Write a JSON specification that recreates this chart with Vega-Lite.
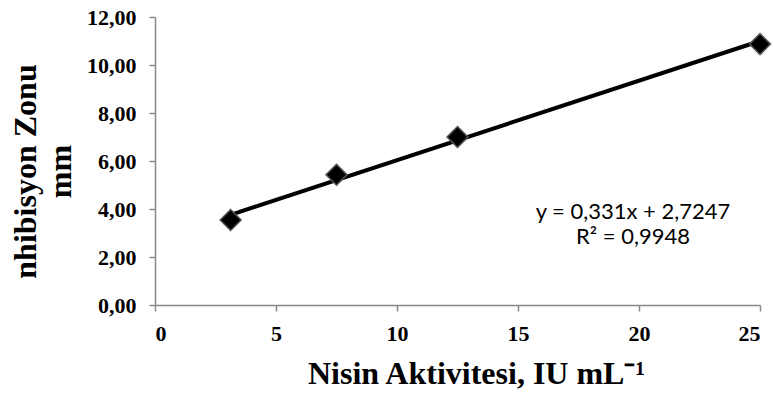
{
  "$schema": "https://vega.github.io/schema/vega-lite/v6.json",
  "width": 605,
  "height": 288,
  "autosize": "none",
  "padding": {"left": 155, "top": 17, "right": 13, "bottom": 91},
  "background": "white",
  "config": {"view": {"stroke": null}},
  "datasets": {
    "points": [
      {"x": 3.125, "y": 3.54},
      {"x": 7.5, "y": 5.43},
      {"x": 12.5, "y": 7.0},
      {"x": 25, "y": 10.87}
    ],
    "trend": [
      {"x": 3.125, "y": 3.759},
      {"x": 25, "y": 11.0}
    ],
    "labels": [
      {"x": 19.75, "y": 3.58, "text": "y = 0,331x + 2,7247\nR² = 0,9948"}
    ]
  },
  "layer": [
    {
      "data": {"name": "trend"},
      "mark": {"type": "line", "color": "black", "strokeWidth": 4},
      "encoding": {
        "x": {
          "field": "x", "type": "quantitative",
          "scale": {"domain": [0, 25], "nice": false},
          "axis": {
            "values": [0, 5, 10, 15, 20, 25],
            "grid": false,
            "domainColor": "#888888",
            "domainWidth": 1.5,
            "tickColor": "#888888",
            "tickWidth": 1.5,
            "tickSize": 6,
            "labelFont": "Liberation Serif",
            "labelFontWeight": "bold",
            "labelFontSize": 22,
            "labelColor": "black",
            "labelBaseline": "alphabetic",
            "labelPadding": 29,
            "title": "Nisin Aktivitesi, IU mL⁻¹",
            "titleFont": "Liberation Serif",
            "titleFontWeight": "bold",
            "titleFontSize": 32,
            "titleColor": "black",
            "titleX": 321,
            "titleY": 78,
            "titleAlign": "center",
            "titleBaseline": "alphabetic"
          }
        },
        "y": {
          "field": "y", "type": "quantitative",
          "scale": {"domain": [0, 12], "nice": false},
          "axis": {
            "values": [0, 2, 4, 6, 8, 10, 12],
            "grid": false,
            "domainColor": "#888888",
            "domainWidth": 1.5,
            "tickColor": "#888888",
            "tickWidth": 1.5,
            "tickSize": 6,
            "labelExpr": "replace(format(datum.value, '.2f'), '.', ',')",
            "labelFont": "Liberation Serif",
            "labelFontWeight": "bold",
            "labelFontSize": 22,
            "labelColor": "black",
            "labelPadding": 13,
            "title": ["nhibisyon Zonu", "mm"],
            "titleFont": "Liberation Serif",
            "titleFontWeight": "bold",
            "titleFontSize": 32,
            "titleColor": "black",
            "titleLineHeight": 35,
            "titleAngle": -90,
            "titleX": -120,
            "titleY": 154,
            "titleAlign": "center",
            "titleBaseline": "alphabetic"
          }
        }
      }
    },
    {
      "data": {"name": "points"},
      "mark": {"type": "point", "shape": "diamond", "filled": true, "color": "black", "size": 440, "opacity": 1, "stroke": "#555555", "strokeWidth": 1.5},
      "encoding": {
        "x": {"field": "x", "type": "quantitative"},
        "y": {"field": "y", "type": "quantitative"}
      }
    },
    {
      "data": {"name": "labels"},
      "mark": {"type": "text", "font": "Lato", "fontSize": 22, "lineHeight": 25, "lineBreak": "\n", "color": "black", "align": "center", "baseline": "alphabetic"},
      "encoding": {
        "x": {"field": "x", "type": "quantitative"},
        "y": {"field": "y", "type": "quantitative"},
        "text": {"field": "text"}
      }
    }
  ]
}
